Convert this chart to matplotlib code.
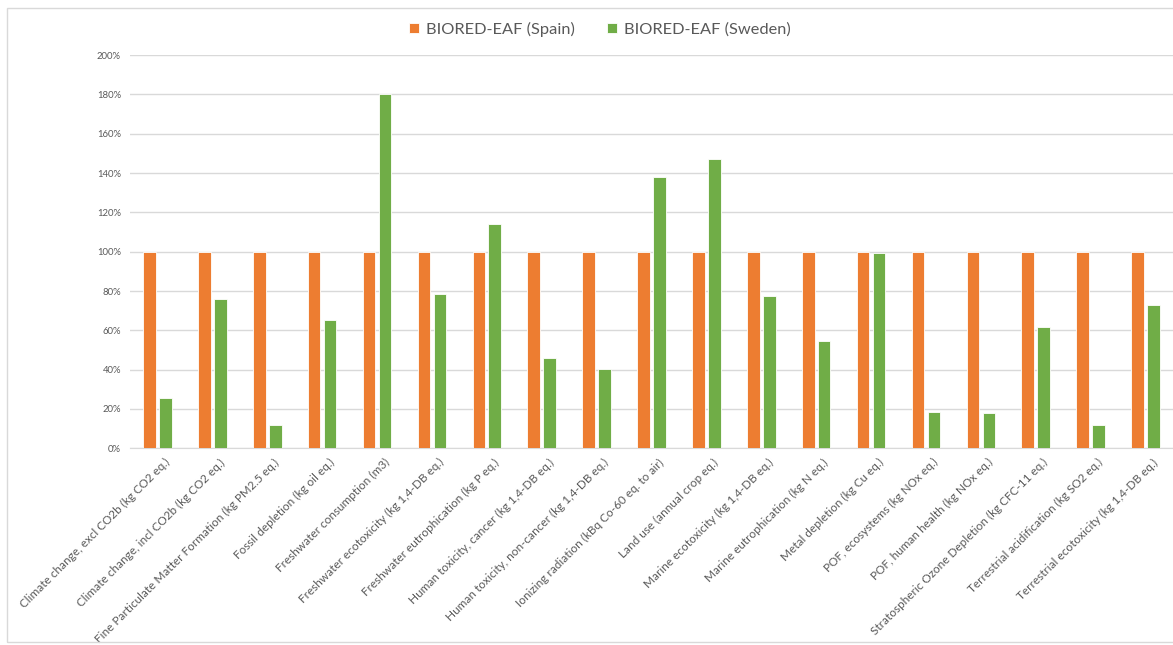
import matplotlib.pyplot as plt
from matplotlib.patches import Rectangle
from matplotlib.ticker import FuncFormatter
import numpy

plt.rcParams['font.family'] = ['Lato', 'DejaVu Sans']

categories = [
    "Climate change, excl CO2b (kg CO2 eq.)",
    "Climate change, incl CO2b (kg CO2 eq.)",
    "Fine Particulate Matter Formation (kg PM2.5 eq.)",
    "Fossil depletion (kg oil eq.)",
    "Freshwater consumption (m3)",
    "Freshwater ecotoxicity (kg 1,4-DB eq.)",
    "Freshwater eutrophication (kg P eq.)",
    "Human toxicity, cancer (kg 1,4-DB eq.)",
    "Human toxicity, non-cancer (kg 1,4-DB eq.)",
    "Ionizing radiation (kBq Co-60 eq. to air)",
    "Land use (annual crop eq.)",
    "Marine ecotoxicity (kg 1,4-DB eq.)",
    "Marine eutrophication (kg N eq.)",
    "Metal depletion (kg Cu eq.)",
    "POF, ecosystems (kg NOx eq.)",
    "POF, human health (kg NOx eq.)",
    "Stratospheric Ozone Depletion (kg CFC-11 eq.)",
    "Terrestrial acidification (kg SO2 eq.)",
    "Terrestrial ecotoxicity (kg 1,4-DB eq.)",
]
spain = [100] * 19
sweden = [25.7, 75.8, 11.9, 65.1, 180, 78.5, 114.1, 45.8, 40.3, 138,
          147, 77.5, 54.7, 99.5, 18.3, 18, 61.5, 11.9, 72.7]

ORANGE = '#ED7D31'
GREEN = '#70AD47'
GREY = '#595959'

fig = plt.figure(figsize=(11.73, 6.45), dpi=100)
ax = fig.add_axes([130 / 1173, 1 - 448.3 / 645, 1 - 130 / 1173, (448.3 - 55.1) / 645])

# chart border
fig.patches.append(Rectangle((7 / 1173, 3 / 645), 1.2, 1 - 11 / 645, transform=fig.transFigure,
                             fill=False, edgecolor='#D9D9D9', linewidth=1))

x = numpy.arange(len(categories))
widthOfBars = 0.23
ax.bar(x - 0.145, spain, widthOfBars, color=ORANGE, edgecolor='white', linewidth=0.6,
       label='BIORED-EAF (Spain)', zorder=3)
ax.bar(x + 0.145, sweden, widthOfBars, color=GREEN, edgecolor='white', linewidth=0.6,
       label='BIORED-EAF (Sweden)', zorder=3)

ax.set_xlim(-0.5, len(categories) - 0.5)
ax.set_ylim(0, 200)
ax.set_yticks(numpy.arange(0, 201, 20))
ax.yaxis.set_major_formatter(FuncFormatter(lambda v, p: f"{v:.0f}%"))
ax.grid(axis='y', color='#D9D9D9', linewidth=1, zorder=0)
for s in ['top', 'right', 'left']:
    ax.spines[s].set_visible(False)
ax.spines['bottom'].set_color('#D9D9D9')
ax.tick_params(axis='y', length=0, pad=6.5, labelsize=6.8, labelcolor=GREY)
ax.tick_params(axis='x', length=0, pad=6, labelsize=8.5, labelcolor=GREY)

ax.set_xticks(x + 0.12)
ax.set_xticklabels(categories, rotation=45, ha='right', rotation_mode='anchor')

fig.legend(loc='center', bbox_to_anchor=(600 / 1173, 1 - 29 / 645), ncol=2, frameon=False,
           fontsize=11.8, labelcolor=GREY, handlelength=0.6, handleheight=0.6,
           handletextpad=0.4, columnspacing=2.0)

plt.savefig('out.png', dpi=100)
